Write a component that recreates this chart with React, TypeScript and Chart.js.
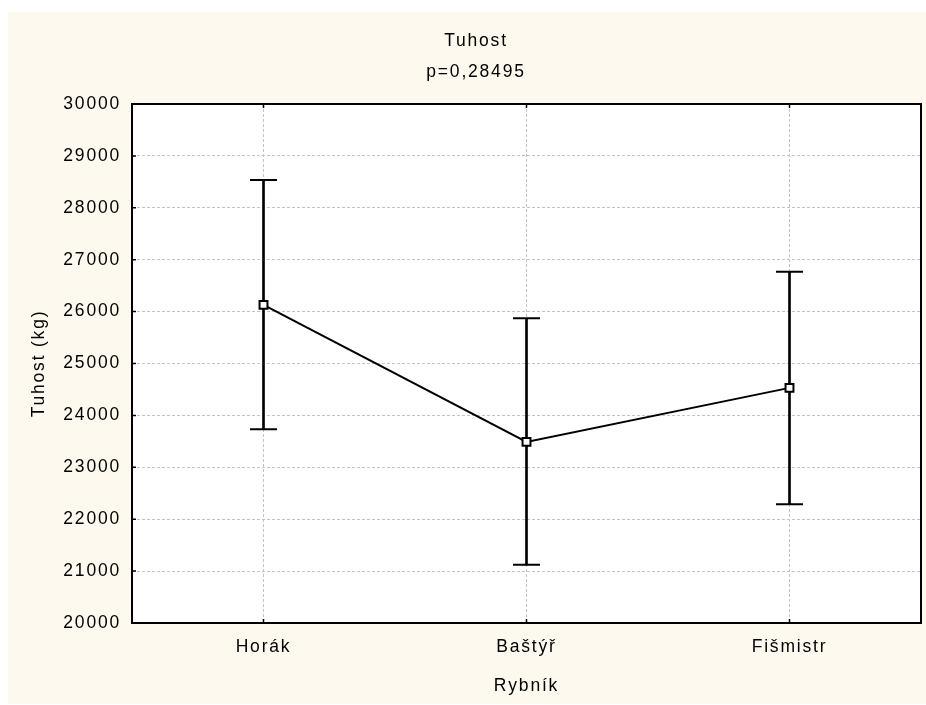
import React, { useEffect, useRef } from "react";
import { Chart, registerables } from "chart.js";

Chart.register(...registerables);

const categories = ["Horák", "Baštýř", "Fišmistr"];
const means = [26130, 23490, 24530];
const upperBounds = [28535, 25870, 26770];
const lowerBounds = [23735, 21120, 22290];
const yMin = 20000;
const yMax = 30000;
const yStep = 1000;
const titleLines = ["Tuhost", "p=0,28495"];
const yTitle = "Tuhost (kg)";
const xTitle = "Rybník";

const CREAM = "#FEF9EF";
const FONT = "'Liberation Sans', Arial, sans-serif";
const FS = 17.5;
const LS = "1.8px";

const spacingPlugin = {
  id: "spacing",
  beforeUpdate(chart: any) {
    (chart.ctx as any).letterSpacing = LS;
  },
  beforeLayout(chart: any) {
    (chart.ctx as any).letterSpacing = LS;
  },
  beforeDraw(chart: any) {
    const ctx = chart.ctx;
    (ctx as any).letterSpacing = LS;
    const { left, top, right, bottom } = chart.chartArea;
    ctx.save();
    ctx.fillStyle = CREAM;
    ctx.fillRect(0, 0, chart.width, chart.height);
    ctx.fillStyle = "#FFFFFF";
    ctx.fillRect(left, top, right - left, bottom - top);
    ctx.restore();
  },
  afterDraw(chart: any) {
    const ctx = chart.ctx;
    const { left, top, right, bottom } = chart.chartArea;
    const xs = chart.scales.x;
    const ys = chart.scales.y;
    ctx.save();
    ctx.strokeStyle = "#000";
    ctx.lineWidth = 1.5;
    ctx.beginPath();
    xs.ticks.forEach((_t: any, i: number) => {
      const px = xs.getPixelForTick(i);
      ctx.moveTo(px, top);
      ctx.lineTo(px, top + 4);
      ctx.moveTo(px, bottom);
      ctx.lineTo(px, bottom - 4);
    });
    ys.ticks.forEach((t: any) => {
      const py = ys.getPixelForValue(t.value);
      ctx.moveTo(left, py);
      ctx.lineTo(left + 4, py);
    });
    ctx.stroke();
    ctx.lineWidth = 2;
    ctx.strokeRect(left, top, right - left, bottom - top);
    ctx.restore();
  },
};

export default function App() {
  const ref = useRef<HTMLCanvasElement | null>(null);

  useEffect(() => {
    if (!ref.current) return;
    Chart.defaults.font.family = FONT;
    Chart.defaults.font.size = FS;
    Chart.defaults.color = "#000";

    const chart = new Chart(ref.current, {
      type: "line",
      data: {
        labels: categories,
        datasets: [
          {
            type: "line",
            data: means,
            borderColor: "#000",
            borderWidth: 2,
            pointStyle: "rect",
            pointRadius: 5.6,
            pointBackgroundColor: "#FFFFFF",
            pointBorderColor: "#000",
            pointBorderWidth: 2,
            tension: 0,
            order: 0,
          },
          {
            type: "line",
            data: upperBounds,
            showLine: false,
            pointStyle: "line",
            pointRadius: 13.5,
            pointBorderWidth: 2,
            pointBorderColor: "#000",
            borderColor: "#000",
            order: 1,
          },
          {
            type: "line",
            data: lowerBounds,
            showLine: false,
            pointStyle: "line",
            pointRadius: 13.5,
            pointBorderWidth: 2,
            pointBorderColor: "#000",
            borderColor: "#000",
            order: 2,
          },
          {
            type: "bar",
            data: lowerBounds.map((l, i) => [l, upperBounds[i]]) as any,
            backgroundColor: "#000",
            borderWidth: 0,
            barThickness: 2,
            order: 3,
          },
        ] as any,
      },
      options: {
        responsive: false,
        animation: false,
        devicePixelRatio: 1,
        layout: { autoPadding: false, padding: { left: 23, right: 5, top: 0, bottom: 0 } },
        plugins: {
          legend: { display: false },
          tooltip: { enabled: false },
          title: {
            display: true,
            text: titleLines,
            color: "#000",
            font: { family: FONT, size: FS, weight: "normal", lineHeight: 30.7 / FS },
            padding: { top: 14, bottom: 16.6 },
          },
        },
        scales: {
          x: {
            type: "category",
            offset: true,
            grid: {
              display: true,
              offset: false,
              color: "#C4C4C4",
              lineWidth: 1,
              drawTicks: false,
            },
            border: { display: false, dash: [3, 2] },
            ticks: { padding: 13.5, color: "#000", font: { family: FONT, size: FS } },
            title: {
              display: true,
              text: xTitle,
              color: "#000",
              font: { family: FONT, size: FS, lineHeight: 1.2 },
              padding: { top: 0, bottom: 7.7 },
            },
            afterFit: (s: any) => {
              s.height = 81;
            },
          },
          y: {
            type: "linear",
            min: yMin,
            max: yMax,
            grid: {
              display: true,
              color: "#C4C4C4",
              lineWidth: 1,
              drawTicks: false,
            },
            border: { display: false, dash: [3, 2] },
            ticks: {
              stepSize: yStep,
              padding: 11,
              color: "#000",
              font: { family: FONT, size: FS },
              callback: (v: any) => String(v),
            },
            title: {
              display: true,
              text: yTitle,
              color: "#000",
              font: { family: FONT, size: FS, lineHeight: 0.8 },
              padding: { top: 0.7, bottom: 0 },
            },
            afterFit: (s: any) => {
              s.width = 101;
            },
          },
        },
      } as any,
      plugins: [spacingPlugin],
    });
    return () => chart.destroy();
  }, []);

  return (
    <div style={{ position: "absolute", left: 8, top: 12, width: 918, height: 692 }}>
      <canvas ref={ref} width={918} height={692} style={{ display: "block", width: 918, height: 692 }} />
    </div>
  );
}
